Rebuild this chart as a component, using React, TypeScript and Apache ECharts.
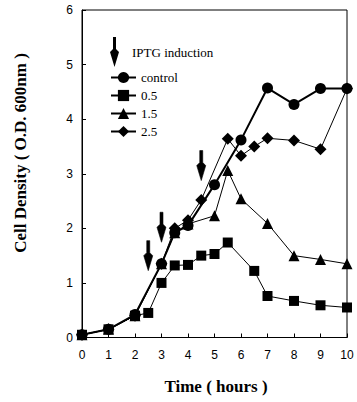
import React, { useEffect, useRef } from "react";
import * as echarts from "echarts";

// Time (hours) and cell density (O.D. 600nm) per culture
const controlTime = [0, 1, 2, 3, 3.5, 4, 5, 6, 7, 8, 9, 10];
const controlOD = [0.05, 0.15, 0.42, 1.35, 1.92, 2.05, 2.8, 3.62, 4.57, 4.27, 4.56, 4.56];

const t05Time = [0, 1, 2, 2.5, 3, 3.5, 4, 4.5, 5, 5.5, 6.5, 7, 8, 9, 10];
const t05OD = [0.05, 0.15, 0.4, 0.45, 1.0, 1.32, 1.33, 1.5, 1.53, 1.74, 1.22, 0.76, 0.67, 0.59, 0.55];

const t15Time = [0, 1, 2, 3, 3.5, 4, 5, 5.5, 6, 7, 8, 9, 10];
const t15OD = [0.05, 0.15, 0.4, 1.35, 1.92, 2.08, 2.23, 3.06, 2.54, 2.09, 1.5, 1.43, 1.35];

const t25Time = [0, 1, 2, 3, 3.5, 4, 4.5, 5.5, 6, 6.5, 7, 8, 9, 10];
const t25OD = [0.05, 0.15, 0.4, 1.35, 2.0, 2.15, 2.52, 3.64, 3.33, 3.5, 3.65, 3.61, 3.45, 4.56];

// IPTG induction arrows (time, arrow centre height)
const arrowTime = [2.5, 3, 4.5];
const arrowOD = [1.5, 2.02, 3.15];

const xTicks = [0, 1, 2, 3, 4, 5, 6, 7, 8, 9, 10];
const yTicks = [0, 1, 2, 3, 4, 5, 6];

const seriesNames = ["control", "0.5", "1.5", "2.5"];

const ARROW = "path://M3,0 L6,0 L6,12 L9,15 L4.5,30 L0,15 L3,12 Z";

const zip = (a: number[], b: number[]) => a.map((v, i) => [v, b[i]]);

export default function App() {
  const ref = useRef<HTMLDivElement>(null);
  useEffect(() => {
    if (!ref.current) return;
    const chart = echarts.init(ref.current, undefined, { renderer: "svg" });
    const black = "#000";
    const mkLine = (name: string, data: number[][], symbol: string, size: number, width: number) => ({
      type: "line",
      name,
      data,
      symbol,
      symbolSize: size,
      showAllSymbol: true,
      itemStyle: { color: black, opacity: 1 },
      lineStyle: { color: black, width },
      z: 3,
    });
    chart.setOption({
      animation: false,
      backgroundColor: "#fff",
      grid: {
        left: 82,
        right: 10,
        top: 10,
        bottom: 64.5,
        show: true,
        borderColor: black,
        borderWidth: 1,
      },
      xAxis: {
        type: "value",
        min: xTicks[0],
        max: xTicks[xTicks.length - 1],
        interval: 1,
        splitLine: { show: false },
        axisLine: { lineStyle: { color: black, width: 1 } },
        axisTick: { inside: true, length: 4, lineStyle: { color: black } },
        axisLabel: { color: black, fontFamily: "Liberation Sans", fontSize: 12, margin: 11 },
      },
      yAxis: {
        type: "value",
        min: yTicks[0],
        max: yTicks[yTicks.length - 1],
        interval: 1,
        splitLine: { show: false },
        axisLine: { lineStyle: { color: black, width: 1 } },
        axisTick: { inside: true, length: 4, lineStyle: { color: black } },
        axisLabel: { color: black, fontFamily: "Liberation Sans", fontSize: 12, margin: 9 },
      },
      legend: [
        {
          orient: "vertical",
          left: 105,
          top: 32,
          itemWidth: 25,
          itemHeight: 30,
          data: [{ name: "IPTG induction", icon: ARROW, itemStyle: { color: black, opacity: 1, borderWidth: 0 } }],
          textStyle: { fontFamily: "Liberation Serif", fontSize: 13, color: black },
          itemGap: 0,
          selectedMode: false,
        },
        {
          orient: "vertical",
          left: 105,
          top: 66,
          itemWidth: 25,
          itemHeight: 14,
          itemGap: 5,
          data: seriesNames,
          textStyle: { fontFamily: "Liberation Serif", fontSize: 13, color: black },
          selectedMode: false,
        },
      ],
      graphic: [
        {
          type: "text",
          x: 20,
          y: 153,
          rotation: Math.PI / 2,
          style: {
            text: "Cell Density ( O.D. 600nm )",
            font: "bold 17px 'Liberation Serif'",
            fill: black,
            align: "center",
            verticalAlign: "middle",
          },
        },
        {
          type: "text",
          x: 216,
          y: 386,
          style: {
            text: "Time ( hours )",
            font: "bold 17px 'Liberation Serif'",
            fill: black,
            align: "center",
            verticalAlign: "middle",
          },
        },
      ],
      series: [
        mkLine(seriesNames[0], zip(controlTime, controlOD), "circle", 11, 2),
        mkLine(seriesNames[1], zip(t05Time, t05OD), "rect", 10, 1),
        mkLine(seriesNames[2], zip(t15Time, t15OD), "triangle", 11, 1),
        mkLine(seriesNames[3], zip(t25Time, t25OD), "diamond", 12, 1),
        {
          type: "scatter",
          name: "IPTG induction",
          data: zip(arrowTime, arrowOD),
          symbol: ARROW,
          symbolSize: [9, 30],
          symbolKeepAspect: false,
          itemStyle: { color: black, opacity: 1, borderColor: black, borderWidth: 0.5 },
          z: 4,
        },
      ],
    });
    return () => chart.dispose();
  }, []);
  return <div ref={ref} style={{ width: 357, height: 402, position: "absolute", left: 0, top: 0 }} />;
}
